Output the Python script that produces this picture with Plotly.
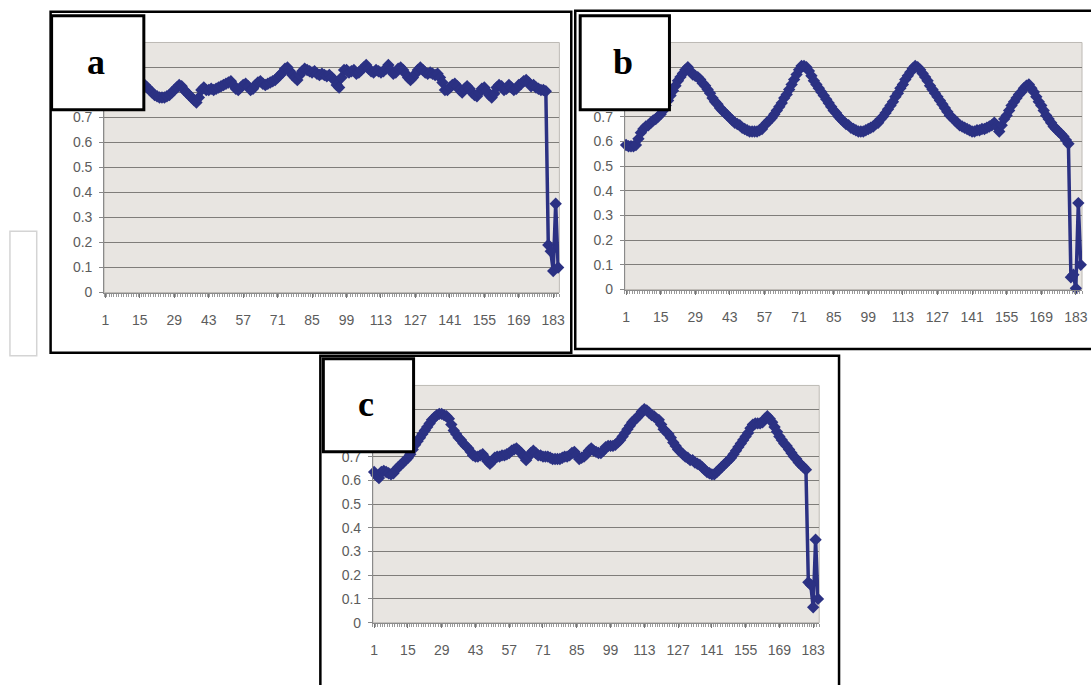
import plotly.graph_objects as go

W, H = 1091, 685

categories = list(range(1, 186))
tick_labels = [1, 15, 29, 43, 57, 71, 85, 99, 113, 127, 141, 155, 169, 183]
y_ticks = [0, 0.1, 0.2, 0.3, 0.4, 0.5, 0.6, 0.7, 0.8, 0.9, 1.0]
y_tick_text = ["0", "0.1", "0.2", "0.3", "0.4", "0.5", "0.6", "0.7", "", "", ""]

series_a = [
    0.82, 0.83, 0.82, 0.84, 0.83, 0.82, 0.84, 0.85, 0.83, 0.82,
    0.84, 0.83, 0.84, 0.83, 0.84, 0.83, 0.83, 0.82, 0.81, 0.80,
    0.79, 0.785, 0.78, 0.78, 0.78, 0.785, 0.79, 0.80, 0.81, 0.82,
    0.83, 0.825, 0.81, 0.80, 0.79, 0.78, 0.77, 0.76, 0.78, 0.81,
    0.82, 0.81, 0.81, 0.815, 0.81, 0.815, 0.82, 0.825, 0.83, 0.835,
    0.84, 0.845, 0.83, 0.815, 0.81, 0.82, 0.83, 0.835, 0.825, 0.81,
    0.815, 0.83, 0.84, 0.845, 0.835, 0.83, 0.835, 0.84, 0.845, 0.85,
    0.86, 0.87, 0.88, 0.895, 0.90, 0.885, 0.87, 0.86, 0.85, 0.87,
    0.885, 0.895, 0.89, 0.885, 0.88, 0.885, 0.875, 0.87, 0.875, 0.87,
    0.865, 0.87, 0.86, 0.85, 0.83, 0.82, 0.86, 0.89, 0.89, 0.88,
    0.885, 0.89, 0.875, 0.88, 0.89, 0.90, 0.91, 0.895, 0.885, 0.88,
    0.89, 0.885, 0.88, 0.885, 0.895, 0.91, 0.89, 0.875, 0.88, 0.895,
    0.90, 0.89, 0.875, 0.86, 0.85, 0.86, 0.875, 0.89, 0.90, 0.89,
    0.88, 0.875, 0.88, 0.875, 0.87, 0.875, 0.86, 0.84, 0.81, 0.81,
    0.82, 0.83, 0.835, 0.825, 0.81, 0.80, 0.815, 0.825, 0.815, 0.80,
    0.79, 0.785, 0.80, 0.815, 0.82, 0.805, 0.79, 0.78, 0.795, 0.82,
    0.83, 0.825, 0.81, 0.815, 0.83, 0.82, 0.81, 0.815, 0.83, 0.835,
    0.845, 0.85, 0.84, 0.825, 0.83, 0.82, 0.815, 0.81, 0.81, 0.805,
    0.19, 0.165, 0.086, 0.355, 0.10,
]

series_b = [
    0.585, 0.58, 0.58, 0.58, 0.585, 0.61, 0.635, 0.65, 0.66, 0.665,
    0.675, 0.685, 0.69, 0.70, 0.71, 0.725, 0.745, 0.765, 0.785, 0.805,
    0.825, 0.845, 0.86, 0.875, 0.89, 0.90, 0.885, 0.87, 0.865, 0.86,
    0.85, 0.835, 0.825, 0.81, 0.795, 0.775, 0.76, 0.75, 0.735, 0.725,
    0.715, 0.705, 0.695, 0.685, 0.675, 0.67, 0.665, 0.655, 0.65, 0.645,
    0.64, 0.64, 0.64, 0.64, 0.645, 0.65, 0.665, 0.675, 0.685, 0.695,
    0.71, 0.725, 0.74, 0.755, 0.775, 0.79, 0.81, 0.83, 0.85, 0.87,
    0.89, 0.905, 0.905, 0.90, 0.885, 0.865, 0.845, 0.83, 0.815, 0.80,
    0.785, 0.77, 0.755, 0.74, 0.725, 0.715, 0.70, 0.69, 0.68, 0.67,
    0.665, 0.655, 0.65, 0.645, 0.64, 0.64, 0.64, 0.645, 0.65, 0.655,
    0.66, 0.67, 0.675, 0.69, 0.70, 0.715, 0.73, 0.745, 0.76, 0.78,
    0.795, 0.815, 0.83, 0.85, 0.865, 0.88, 0.895, 0.905, 0.90, 0.89,
    0.875, 0.86, 0.845, 0.825, 0.81, 0.795, 0.78, 0.765, 0.75, 0.735,
    0.72, 0.705, 0.695, 0.685, 0.675, 0.665, 0.66, 0.655, 0.65, 0.645,
    0.64, 0.64, 0.645, 0.645, 0.65, 0.65, 0.655, 0.66, 0.665, 0.675,
    0.66, 0.64, 0.665, 0.69, 0.705, 0.725, 0.745, 0.76, 0.775, 0.79,
    0.80, 0.815, 0.825, 0.83, 0.815, 0.80, 0.78, 0.76, 0.745, 0.725,
    0.705, 0.69, 0.675, 0.66, 0.65, 0.64, 0.63, 0.62, 0.605, 0.59,
    0.05, 0.06, 0.005, 0.35, 0.10,
]

series_c = [
    0.635, 0.62, 0.61, 0.635, 0.64, 0.635, 0.63, 0.625, 0.63, 0.645,
    0.655, 0.665, 0.675, 0.685, 0.695, 0.71, 0.73, 0.75, 0.765, 0.78,
    0.795, 0.81, 0.825, 0.84, 0.855, 0.865, 0.875, 0.88, 0.88, 0.875,
    0.87, 0.86, 0.835, 0.81, 0.795, 0.78, 0.77, 0.755, 0.745, 0.735,
    0.72, 0.705, 0.70, 0.70, 0.705, 0.71, 0.695, 0.68, 0.67, 0.68,
    0.695, 0.70, 0.70, 0.705, 0.705, 0.71, 0.715, 0.725, 0.73, 0.735,
    0.725, 0.715, 0.70, 0.685, 0.70, 0.715, 0.725, 0.715, 0.705, 0.705,
    0.70, 0.70, 0.70, 0.695, 0.69, 0.69, 0.69, 0.69, 0.695, 0.70,
    0.70, 0.705, 0.715, 0.72, 0.705, 0.69, 0.695, 0.70, 0.71, 0.725,
    0.735, 0.725, 0.72, 0.715, 0.715, 0.725, 0.74, 0.745, 0.745, 0.745,
    0.75, 0.76, 0.77, 0.785, 0.80, 0.815, 0.83, 0.845, 0.855, 0.865,
    0.875, 0.89, 0.90, 0.895, 0.885, 0.875, 0.87, 0.86, 0.855, 0.835,
    0.815, 0.805, 0.795, 0.78, 0.76, 0.745, 0.73, 0.72, 0.71, 0.70,
    0.695, 0.685, 0.685, 0.675, 0.67, 0.665, 0.655, 0.645, 0.635, 0.63,
    0.625, 0.625, 0.635, 0.645, 0.655, 0.665, 0.675, 0.685, 0.695, 0.71,
    0.725, 0.74, 0.755, 0.77, 0.785, 0.80, 0.82, 0.835, 0.84, 0.84,
    0.84, 0.845, 0.86, 0.87, 0.86, 0.845, 0.825, 0.805, 0.785, 0.77,
    0.755, 0.745, 0.73, 0.715, 0.70, 0.69, 0.675, 0.665, 0.655, 0.645,
    0.17, 0.16, 0.065, 0.35, 0.10,
]

panel_labels = ["a", "b", "c"]

NAVY = "#2b3183"
GRID = "#7f7d7a"
BG = "#e8e5e1"
TXT = "#5c5c5c"


def fx(px):
    return px / W


def fy(py):
    return 1 - py / H


# plot-area pixel boxes (left, top, right, bottom)
areas = [(102, 43, 561, 296), (627, 43, 1088, 293), (373, 390, 823, 630)]
frames = [(48, 12, 573, 357), (577, 11, 1100, 353), (320, 360, 843, 700)]
boxes = [(49, 16, 142, 111), (582, 16, 672, 111), (323, 363, 414, 457)]
series = [series_a, series_b, series_c]

fig = go.Figure()
layout = dict(
    width=W, height=H, margin=dict(l=0, r=0, t=0, b=0),
    paper_bgcolor="white", plot_bgcolor=BG, showlegend=False,
)

shapes = []
annotations = []

for i, (vals, area) in enumerate(zip(series, areas)):
    n = "" if i == 0 else str(i + 1)
    fig.add_trace(go.Scatter(
        x=categories, y=vals, xaxis="x" + n, yaxis="y" + n,
        mode="lines+markers",
        line=dict(color=NAVY, width=3.5),
        marker=dict(symbol="diamond", size=9.5, color=NAVY),
        cliponaxis=False, hoverinfo="skip",
    ))
    l, t, r, b = area
    layout["xaxis" + n] = dict(
        domain=[fx(l), fx(r)], anchor="y" + n, range=[0.5, 185.5],
        tickmode="array", tickvals=tick_labels,
        ticktext=[str(v) for v in tick_labels],
        ticks="outside", ticklen=4, tickcolor="#777", tickwidth=1,
        minor=dict(dtick=1, tick0=0.5, ticks="outside", ticklen=3,
                   tickcolor="#9a9a9a", tickwidth=1),
        showline=True, linecolor="#8a8a8a", linewidth=1,
        showgrid=False, zeroline=False,
        tickfont=dict(family="Liberation Sans, Arial", size=14, color=TXT),
        ticklabelstandoff=11, fixedrange=True,
    )
    layout["yaxis" + n] = dict(
        domain=[fy(b), fy(t)], anchor="x" + n, range=[0, 1.0],
        tickmode="array", tickvals=y_ticks, ticktext=y_tick_text,
        ticks="outside", ticklen=4, tickcolor="#888",
        showline=True, linecolor="#8a8a8a", linewidth=1,
        showgrid=True, gridcolor=GRID, gridwidth=1, zeroline=False,
        tickfont=dict(family="Liberation Sans, Arial", size=14, color=TXT),
        ticklabelstandoff=4, fixedrange=True,
    )
    # light plot-area border
    shapes.append(dict(type="rect", xref="paper", yref="paper",
                       x0=fx(l), x1=fx(r), y0=fy(b), y1=fy(t),
                       line=dict(color="#bdbab5", width=1), layer="below"))

# panel frames
for (l, t, r, b) in frames:
    shapes.append(dict(type="rect", xref="paper", yref="paper",
                       x0=fx(l), x1=fx(r), y0=fy(b), y1=fy(t),
                       line=dict(color="black", width=2.5),
                       fillcolor="rgba(0,0,0,0)", layer="above"))

# label boxes
for lab, (l, t, r, b) in zip(panel_labels, boxes):
    shapes.append(dict(type="rect", xref="paper", yref="paper",
                       x0=fx(l), x1=fx(r), y0=fy(b), y1=fy(t),
                       line=dict(color="black", width=3),
                       fillcolor="white", layer="above"))
    annotations.append(dict(
        text="<b>%s</b>" % lab, xref="paper", yref="paper",
        x=fx((l + r) / 2 - 2), y=fy((t + b) / 2 - 1),
        xanchor="center", yanchor="middle", showarrow=False,
        font=dict(family="Liberation Serif, Times New Roman, serif",
                  size=36, color="black"),
    ))

# faint watermark box at the left edge
shapes.append(dict(type="rect", xref="paper", yref="paper",
                   x0=fx(7), x1=fx(34), y0=fy(360), y1=fy(234),
                   line=dict(color="#d4d4d4", width=1.5),
                   fillcolor="white", layer="below"))

layout["shapes"] = shapes
layout["annotations"] = annotations
fig.update_layout(**layout)

fig.write_html(
    "out.html",
    config={"displayModeBar": False, "staticPlot": True},
    post_script="document.body.style.margin='0';document.body.style.overflow='hidden';",
)
